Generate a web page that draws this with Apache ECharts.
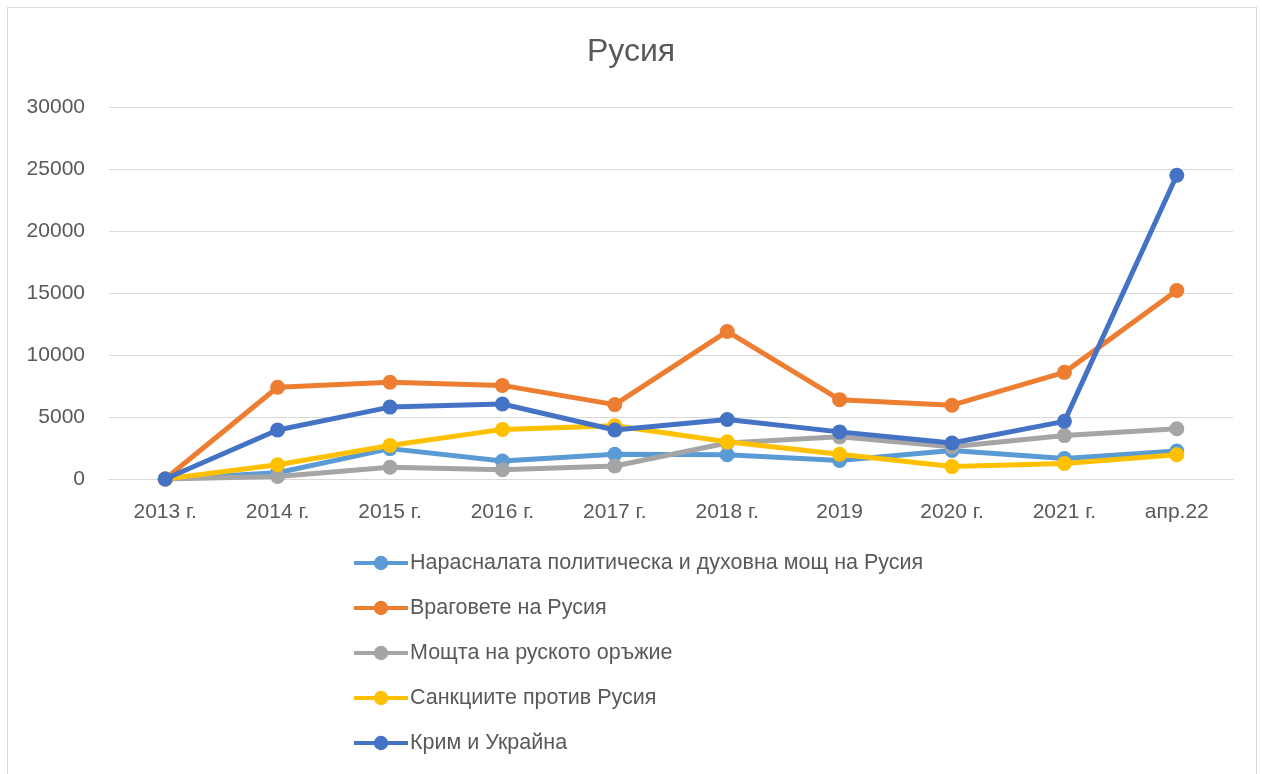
<!DOCTYPE html>
<html>
<head>
<meta charset="utf-8">
<script src="https://cdn.jsdelivr.net/npm/echarts@6/dist/echarts.min.js"></script>
<style>
html,body{margin:0;padding:0;background:#fff;}
#chart{position:absolute;left:0;top:0;width:1262px;height:774px;}
#frame{position:absolute;left:7px;top:7px;width:1248px;height:800px;border:1px solid #d9d9d9;pointer-events:none;}
</style>
</head>
<body>
<div id="chart"></div>
<div id="frame"></div>
<script>
const titleText = 'Русия';
const categories = ['2013 г.', '2014 г.', '2015 г.', '2016 г.', '2017 г.', '2018 г.', '2019', '2020 г.', '2021 г.', 'апр.22'];
const seriesNames = [
  'Нарасналата политическа и духовна мощ на Русия',
  'Враговете на Русия',
  'Мощта на руското оръжие',
  'Санкциите против Русия',
  'Крим и Украйна'
];
const politicalPower = [0, 500, 2450, 1450, 2000, 1950, 1500, 2300, 1650, 2250];
const enemies = [0, 7400, 7800, 7550, 6000, 11900, 6400, 5950, 8600, 15200];
const weapons = [0, 200, 950, 750, 1050, 2900, 3400, 2600, 3500, 4050];
const sanctions = [0, 1150, 2700, 4000, 4300, 3000, 2000, 1000, 1250, 1950];
const crimeaUkraine = [0, 3950, 5800, 6050, 3950, 4800, 3800, 2900, 4650, 24500];
const colors = ['#5B9BD5', '#ED7D31', '#A5A5A5', '#FFC000', '#4472C4'];
const seriesData = [politicalPower, enemies, weapons, sanctions, crimeaUkraine];

const font = 'Liberation Sans';
const textColor = '#595959';

const chart = echarts.init(document.getElementById('chart'), null, {renderer: 'canvas'});
chart.setOption({
  backgroundColor: '#ffffff',
  animation: false,
  color: colors,
  title: {
    text: titleText,
    left: 'center',
    top: 31,
    textStyle: {fontFamily: font, fontSize: 32, fontWeight: 'normal', color: textColor}
  },
  grid: {left: 109, right: 29, top: 107, bottom: 295, containLabel: false},
  legend: {
    orient: 'vertical',
    left: 352,
    top: 552,
    padding: 0,
    itemWidth: 54,
    itemHeight: 18,
    itemGap: 23,
    data: seriesNames,
    lineStyle: {width: 4},
    textStyle: {fontFamily: font, fontSize: 21.5, color: textColor, padding: [0, 0, 0, -3]}
  },
  xAxis: {
    type: 'category',
    data: categories,
    boundaryGap: true,
    axisLine: {lineStyle: {color: '#d9d9d9', width: 1}},
    axisTick: {show: false},
    axisLabel: {fontFamily: font, fontSize: 21, color: textColor, margin: 23}
  },
  yAxis: {
    type: 'value',
    min: 0,
    max: 30000,
    interval: 5000,
    axisLine: {show: false},
    axisTick: {show: false},
    splitLine: {lineStyle: {color: '#d9d9d9', width: 1}},
    axisLabel: {fontFamily: font, fontSize: 21, color: textColor, margin: 24, formatter: v => String(v)}
  },
  series: seriesData.map((d, i) => ({
    name: seriesNames[i],
    type: 'line',
    data: d,
    symbol: 'circle',
    symbolSize: 15,
    lineStyle: {width: 5, color: colors[i]},
    itemStyle: {color: colors[i]},
    z: 2 + i
  }))
});
</script>
</body>
</html>
